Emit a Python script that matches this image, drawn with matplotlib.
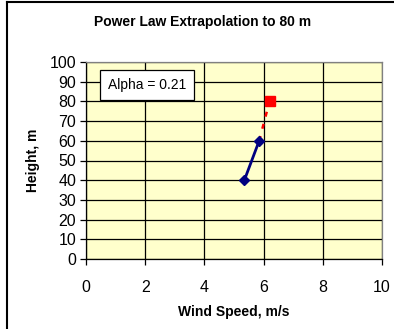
import matplotlib.pyplot as plt
from matplotlib.lines import Line2D

plt.rcParams['font.family'] = ['Liberation Sans', 'DejaVu Sans']

# measured wind speed at two heights, and extrapolated value at 80 m
measured_speed = [5.35, 5.85]
measured_height = [40, 60]
extrap_speed = [5.85, 6.2]
extrap_height = [60, 80]
alpha_text = 'Alpha = 0.21'

fig = plt.figure(figsize=(3.94, 3.29), dpi=100)
ax = fig.add_axes([86 / 394, 1 - 259 / 329, 296 / 394, 197 / 329])
ax.set_facecolor('#FFFFCC')

ax.plot(extrap_speed, extrap_height, color='#FF0000', lw=1.8, ls=(0, (2, 3)))
ax.plot(extrap_speed[-1:], extrap_height[-1:], 's', color='#FF0000', ms=6.5)
ax.plot(measured_speed, measured_height, color='#000080', lw=2,
        marker='D', ms=5.5)

ax.set_xlim(0, 10)
ax.set_ylim(0, 100)
ax.set_xticks(range(0, 11, 2))
ax.set_yticks(range(0, 101, 10))
ax.grid(True, color='black', lw=0.9)
ax.set_axisbelow(True)
for s in ax.spines.values():
    s.set_color('#808080')
    s.set_linewidth(0.9)
ax.spines['left'].set_color('black')
ax.spines['bottom'].set_color('black')
ax.tick_params(direction='out', length=4, width=0.9, labelsize=11.5)
ax.tick_params(axis='x', pad=11)
ax.tick_params(axis='y', pad=3)

ax.set_xlabel('Wind Speed, m/s', fontsize=10, fontweight='bold', labelpad=7)
ax.set_ylabel('Height, m', fontsize=10, fontweight='bold', labelpad=7)
fig.text(203 / 394, 1 - 22 / 329, 'Power Law Extrapolation to 80 m',
         ha='center', va='center', fontsize=10, fontweight='bold')

ax.text(0.074, 0.883, alpha_text, transform=ax.transAxes, fontsize=10,
        va='center', ha='left',
        bbox=dict(boxstyle='square,pad=0.55', fc='white', ec='black', lw=0.9))

# chart frame (top and left edges visible in the crop)
fig.add_artist(Line2D([7 / 394, 7 / 394], [0, 1 - 2 / 329], color='black', lw=1.5))
fig.add_artist(Line2D([7 / 394, 1], [1 - 2 / 329, 1 - 2 / 329], color='black', lw=1.5))

fig.savefig('out.png', dpi=100)
